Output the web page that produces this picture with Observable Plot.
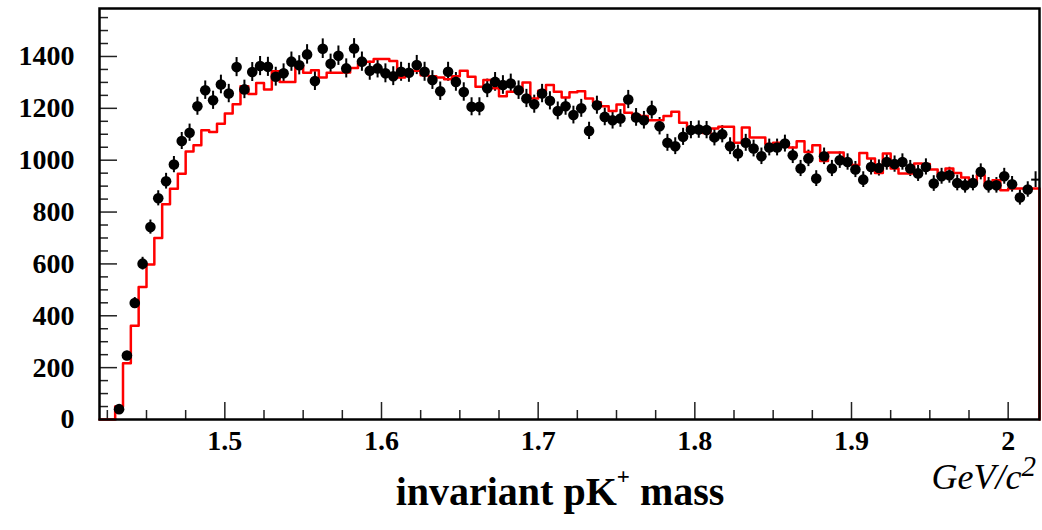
<!DOCTYPE html>
<html>
<head>
<meta charset="utf-8">
<script src="https://cdn.jsdelivr.net/npm/d3@7"></script>
<script src="https://cdn.jsdelivr.net/npm/@observablehq/plot@0.6"></script>
<style>
  html, body { margin: 0; padding: 0; background: #fff; }
  #chart { width: 1042px; height: 530px; }
</style>
</head>
<body>
<div id="chart"></div>
<script>
// ---- Data ----
const binWidth = 0.005;
const firstDataCenter = 1.4325;          // centre of first filled data bin
const firstModelEdge = 1.42;             // lower edge of first model bin

// measured counts per bin (black points), bins 1.430-1.435 ... 2.015-2.020
const dataCounts = [
  40, 247, 449, 601, 742, 853, 919, 983, 1074, 1106,
  1208, 1270, 1231, 1292, 1257, 1359, 1273, 1340, 1363, 1360,
  1322, 1335, 1380, 1366, 1408, 1305, 1430, 1372, 1403, 1354,
  1431, 1380, 1345, 1354, 1335, 1324, 1341, 1337, 1367, 1341,
  1309, 1266, 1341, 1302, 1263, 1206, 1206, 1277, 1302, 1290,
  1296, 1270, 1238, 1216, 1257, 1229, 1190, 1208, 1174, 1200,
  1113, 1212, 1167, 1154, 1161, 1234, 1165, 1154, 1193, 1131,
  1067, 1054, 1090, 1116, 1118, 1116, 1088, 1100, 1054, 1026,
  1067, 1045, 1015, 1049, 1049, 1064, 1019, 968, 1007, 929,
  1015, 968, 1000, 993, 964, 925, 974, 970, 993, 985,
  993, 968, 949, 974, 910, 938, 942, 912, 903, 912,
  955, 903, 903, 938, 907, 856, 887, 925
];

// model histogram (red), bins 1.420-1.425 ... 2.015-2.020
const modelCounts = [
  0, 0, 50, 217, 362, 511, 598, 700, 830, 890,
  948, 1034, 1058, 1115, 1109, 1141, 1180, 1216, 1285, 1255,
  1298, 1273, 1343, 1302, 1302, 1364, 1337, 1347, 1319, 1337,
  1337, 1338, 1356, 1373, 1380, 1390, 1390, 1383, 1319, 1337,
  1345, 1328, 1324, 1319, 1312, 1324, 1345, 1322, 1283, 1309,
  1277, 1247, 1264, 1264, 1300, 1238, 1268, 1290, 1264, 1242,
  1262, 1266, 1238, 1223, 1208, 1190, 1215, 1183, 1174, 1170,
  1154, 1154, 1170, 1187, 1144, 1125, 1116, 1105, 1122, 1129,
  1129, 1067, 1126, 1088, 1088, 1062, 1067, 1067, 1049, 1073,
  1032, 1058, 997, 1030, 1030, 990, 981, 1028, 1007, 951,
  1026, 968, 949, 949, 987, 985, 964, 942, 968, 951,
  933, 910, 942, 900, 923, 884, 891, 891, 891, 891
];

const xTickLabels = [1.5, 1.6, 1.7, 1.8, 1.9, 2.0];
const yTickLabels = [0, 200, 400, 600, 800, 1000, 1200, 1400];
const xMinorTicks = [1.425, 1.45, 1.475, 1.525, 1.55, 1.575, 1.625, 1.65, 1.675, 1.725, 1.75, 1.775,
                     1.825, 1.85, 1.875, 1.925, 1.95, 1.975];
const yMinorTicks = [50, 100, 150, 250, 300, 350, 450, 500, 550, 650, 700, 750, 850, 900, 950,
                     1050, 1100, 1150, 1250, 1300, 1350, 1450, 1500, 1550];
const xDomain = [1.42, 2.02];
const yDomain = [0, 1585];

const xUnitText = "GeV/c";
const titleText = "invariant pK";

// ---- Tables built from the arrays ----
const points = dataCounts.map((v, i) => ({
  x: firstDataCenter + i * binWidth,
  y: v,
  err: Math.sqrt(v)
}));
const steps = modelCounts.map((v, i) => ({x: firstModelEdge + i * binWidth, y: v}));
steps.push({x: firstModelEdge + modelCounts.length * binWidth, y: 0});

const W = 1042, H = 530;
const mL = 99, mR = 3, mT = 8, mB = 111;
const frameH = H - mT - mB, frameW = W - mL - mR;

const chart = Plot.plot({
  width: W,
  height: H,
  marginLeft: mL,
  marginRight: mR,
  marginTop: mT,
  marginBottom: mB,
  style: {
    fontFamily: "'Liberation Serif', 'Times New Roman', serif",
    fontSize: "28px",
    fontWeight: "bold",
    background: "white",
    color: "black"
  },
  x: {
    domain: xDomain,
    ticks: xTickLabels,
    tickSize: 0,
    tickPadding: 11,
    tickFormat: d => d === 2 ? "2" : d3.format(".1f")(d),
    label: null
  },
  y: {
    domain: yDomain,
    ticks: yTickLabels,
    tickSize: 0,
    tickPadding: 25,
    tickFormat: d => String(d),
    label: null
  },
  marks: [
    // inward tick marks
    Plot.ruleX(xTickLabels, {x: d => d, insetTop: frameH - 17, stroke: "#222", strokeWidth: 1.5}),
    Plot.ruleX(xMinorTicks, {x: d => d, insetTop: frameH - 9, stroke: "#222", strokeWidth: 1.5}),
    Plot.ruleY(yTickLabels, {y: d => d, insetRight: frameW - 18, stroke: "#222", strokeWidth: 1.5}),
    Plot.ruleY(yMinorTicks, {y: d => d, insetRight: frameW - 9, stroke: "#222", strokeWidth: 1.5}),
    // data error bars
    Plot.ruleX(points, {x: "x", y1: d => d.y - d.err, y2: d => d.y + d.err, stroke: "black", strokeWidth: 2}),
    Plot.ruleY(points, {y: "y", x1: d => d.x - binWidth / 2, x2: d => d.x + binWidth / 2, stroke: "black", strokeWidth: 2}),
    // model histogram
    Plot.line(steps, {x: "x", y: "y", curve: "step-after", stroke: "#ff0000", strokeWidth: 2.5}),
    // data points (marker at the very edge is not drawn)
    Plot.dot(points.filter(d => d.x + binWidth / 2 < xDomain[1] - 1e-9), {x: "x", y: "y", r: 5.3, fill: "black", stroke: "none"}),
    Plot.frame({stroke: "black", strokeWidth: 2.5})
  ]
});

document.getElementById("chart").appendChild(chart);

const svg = d3.select(chart);
// x unit label
const unit = svg.append("text")
  .attr("x", 1036).attr("y", 489)
  .attr("text-anchor", "end")
  .style("font-family", "'Liberation Serif', 'Times New Roman', serif")
  .style("font-style", "italic")
  .style("font-weight", "normal")
  .style("font-size", "36px")
  .attr("fill", "black");
unit.append("tspan").text(xUnitText);
unit.append("tspan").attr("dy", -13).style("font-size", "29px").text("2");

// axis title
const title = svg.append("text")
  .attr("x", 560).attr("y", 505)
  .attr("text-anchor", "middle")
  .style("font-family", "'Liberation Serif', 'Times New Roman', serif")
  .style("font-weight", "bold")
  .style("font-size", "40px")
  .attr("fill", "black");
title.append("tspan").text(titleText);
title.append("tspan").attr("dy", -21).style("font-size", "23px").text("+");
title.append("tspan").attr("dy", 21).text(" mass");
</script>
</body>
</html>
